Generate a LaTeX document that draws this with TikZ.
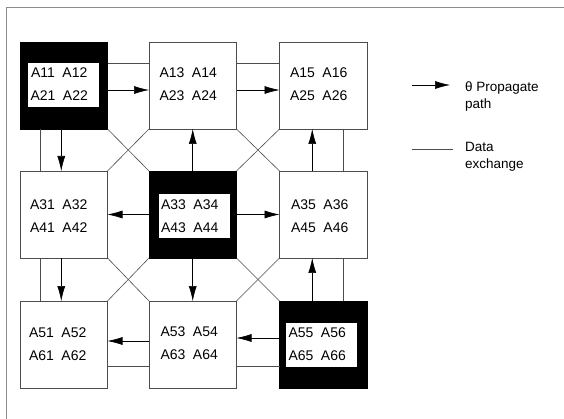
\documentclass[tikz,border=0pt]{standalone}
\usepackage{fontspec}
\setmainfont{Liberation Sans}
\usetikzlibrary{arrows.meta}
\begin{document}
\begin{tikzpicture}[x=1pt,y=-1pt,
  cell/.style={draw=black!70,line width=0.6pt,minimum width=87.5pt,minimum height=87pt,inner sep=0pt,outer sep=0pt},
  hot/.style={cell,fill=black,draw=black},
  hole/.style={fill=white,minimum width=71pt,minimum height=44pt,inner sep=0pt},
  lbl/.style={align=center,inner sep=0pt,font=\fontsize{14}{23}\selectfont},
  legtext/.style={anchor=north west,align=left,inner sep=0pt,font=\fontsize{13.5}{17}\selectfont},
  prop/.style={line width=0.6pt,-{Latex[length=15pt,width=8pt]}},
  dx/.style={draw=black!70,line width=0.6pt},
  frame/.style={draw=black!45,line width=0.8pt}]
\useasboundingbox (0,0) rectangle (564,419);
% frame
\coordinate (f1) at (564,7);
\coordinate (f2) at (6.5,7);
\coordinate (f3) at (6.5,419);
\draw[frame] (f1) -- (f2) -- (f3);
% cells
\node[hot]  (b11) at (63.75,85.5) {};
\node[cell] (b13) at (192.75,85.5) {};
\node[cell] (b15) at (323.25,85.5) {};
\node[cell] (b31) at (63.75,214.5) {};
\node[hot]  (b33) at (192.75,214.5) {};
\node[cell] (b35) at (323.25,214.5) {};
\node[cell] (b51) at (63.75,344.5) {};
\node[cell] (b53) at (192.75,344.5) {};
\node[hot]  (b55) at (323.25,344.5) {};
% white holes
\node[hole] (h11) at (b11) {};
\node[hole] (h33) at ([xshift=1.5pt,yshift=-2pt]b33.center) {};
\node[hole] (h55) at ([xshift=-1.5pt]b55.center) {};
% labels
\node[lbl] (t11) at ([xshift=-4.5pt,yshift=1pt]b11.center) {A11\hspace{7.5pt}A12\\A21\hspace{7.5pt}A22};
\node[lbl] (t13) at ([xshift=-4.5pt,yshift=1pt]b13.center) {A13\hspace{7.5pt}A14\\A23\hspace{7.5pt}A24};
\node[lbl] (t15) at ([xshift=-4.5pt,yshift=1pt]b15.center) {A15\hspace{7.5pt}A16\\A25\hspace{7.5pt}A26};
\node[lbl] (t31) at ([xshift=-5pt,yshift=-2pt]b31.center) {A31\hspace{7.5pt}A32\\A41\hspace{7.5pt}A42};
\node[lbl] (t33) at ([xshift=-3pt,yshift=-1.5pt]b33.center) {A33\hspace{7.5pt}A34\\A43\hspace{7.5pt}A44};
\node[lbl] (t35) at ([xshift=-3.5pt,yshift=-1.5pt]b35.center) {A35\hspace{7.5pt}A36\\A45\hspace{7.5pt}A46};
\node[lbl] (t51) at ([xshift=-6pt]b51.center) {A51\hspace{7.5pt}A52\\A61\hspace{7.5pt}A62};
\node[lbl] (t53) at ([xshift=-3.5pt,yshift=1pt]b53.center) {A53\hspace{7.5pt}A54\\A63\hspace{7.5pt}A64};
\node[lbl] (t55) at ([xshift=-6pt]b55.center) {A55\hspace{7.5pt}A56\\A65\hspace{7.5pt}A66};
% propagate arrows
\draw[prop] ([yshift=-4.5pt]b11.east) -- ([yshift=-4.5pt]b13.west);
\draw[prop] ([yshift=-4.5pt]b13.east) -- ([yshift=-4.5pt]b15.west);
\draw[prop] ([xshift=-2.5pt]b11.south) -- ([xshift=-2.5pt]b31.north);
\draw[prop] (b33.north) -- (b13.south);
\draw[prop] ([xshift=-11pt]b35.north) -- ([xshift=-11pt]b15.south);
\draw[prop] (b33.west) -- (b31.east);
\draw[prop] (b33.east) -- (b35.west);
\draw[prop] ([xshift=-2.5pt]b31.south) -- ([xshift=-2.5pt]b51.north);
\draw[prop] (b33.south) -- (b53.north);
\draw[prop] ([xshift=-11pt]b55.north) -- ([xshift=-11pt]b35.south);
\draw[prop] ([yshift=3.5pt]b53.west) -- ([yshift=3.5pt]b51.east);
\draw[prop] ([yshift=6.5pt]b55.west) -- ([yshift=6.5pt]b53.east);
% data exchange
\draw[dx] ([yshift=22.5pt]b11.east) -- ([yshift=22.5pt]b13.west);
\draw[dx] ([yshift=22.5pt]b13.east) -- ([yshift=22.5pt]b15.west);
\draw[dx] ([xshift=-23.5pt]b11.south) -- ([xshift=-23.5pt]b31.north);
\draw[dx] ([xshift=20pt]b15.south) -- ([xshift=20pt]b35.north);
\draw[dx] ([xshift=-23.5pt]b31.south) -- ([xshift=-23.5pt]b51.north);
\draw[dx] ([xshift=20pt]b35.south) -- ([xshift=20pt]b55.north);
\draw[dx] ([yshift=-21.5pt]b51.east) -- ([yshift=-21.5pt]b53.west);
\draw[dx] ([yshift=-21.5pt]b53.east) -- ([yshift=-21.5pt]b55.west);
% diagonals
\draw[dx] (b11.south east) -- (b33.north west);
\draw[dx] (b13.south west) -- (b31.north east);
\draw[dx] (b13.south east) -- (b35.north west);
\draw[dx] (b15.south west) -- (b33.north east);
\draw[dx] (b31.south east) -- (b53.north west);
\draw[dx] (b33.south west) -- (b51.north east);
\draw[dx] (b33.south east) -- (b55.north west);
\draw[dx] (b35.south west) -- (b53.north east);
% legend
\coordinate (lp0) at (412,85);
\coordinate (lp1) at (450,85);
\draw[prop] (lp0) -- (lp1);
\node[legtext] (lgp) at (465,81.5) {θ Propagate\\path};
\coordinate (ld0) at (412,149);
\coordinate (ld1) at (453,149);
\draw[dx] (ld0) -- (ld1);
\node[legtext] (lgd) at (465,142) {Data\\exchange};
\end{tikzpicture}
\end{document}
